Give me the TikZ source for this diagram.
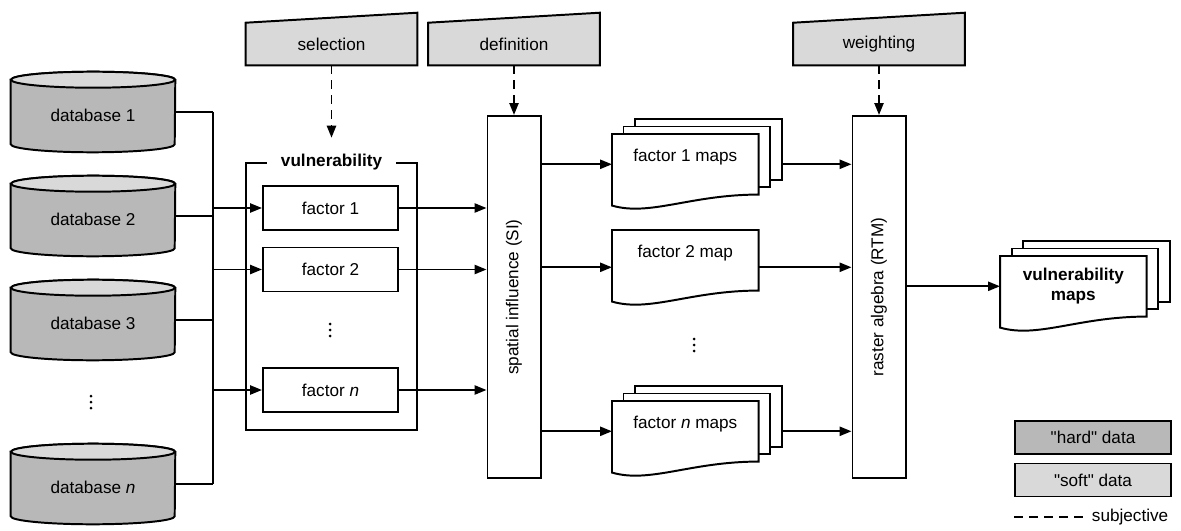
\documentclass[tikz,border=0pt]{standalone}
\usepackage{fontspec}
\setmainfont{Liberation Sans}[Ligatures=TeXOff]
\usetikzlibrary{
  arrows.meta,
  backgrounds
}

\definecolor{harddata}{HTML}{B8B8B8}
\definecolor{softdata}{HTML}{D9D9D9}

\tikzset{
  txt/.style={font=\fontsize{12.2}{14.6}\selectfont},
  btxt/.style={font=\fontsize{12.2}{14.6}\selectfont\bfseries},
  line/.style={line width=1.4pt},
  arr/.style={line,-{Triangle[length=8.5pt,width=6.5pt]}},
  subj/.style={arr,dash pattern=on 6.4pt off 4.3pt},
  subjline/.style={line,dash pattern=on 6.4pt off 4.3pt},
  dbnode/.style={txt,minimum width=4.1cm,minimum height=1.6cm,inner sep=0pt,
    text height=0.57cm,text depth=0.09cm},
  trapnode/.style={txt,minimum width=4.275cm,minimum height=1.05cm,inner sep=0pt},
  factorbox/.style={txt,draw,line,minimum width=3.375cm,minimum height=1.1cm,inner sep=0pt},
  tallbox/.style={txt,draw,line,rotate=90,minimum width=9.05cm,minimum height=1.325cm,inner sep=0pt},
  docnode/.style={txt,anchor=north west,minimum width=3.65cm,minimum height=1.5cm,inner sep=0pt},
  oneline/.style={text height=0.325cm,text depth=0.475cm},
  legbox/.style={txt,draw,line,minimum width=3.9cm,minimum height=0.825cm,inner sep=0pt},
  dotsnode/.style={inner sep=0pt,minimum size=0.4cm}
}

\begin{document}
\begin{tikzpicture}[x=0.025cm,y=0.025cm]

\useasboundingbox (0,0) rectangle (1181,-531);

%--------------------
% databases
%--------------------
\foreach \i/\y/\name in {1/112/{database 1},2/216/{database 2},3/320/{database 3},n/484/{database \textit{n}}} {
  \node[dbnode] (db\i) at (93,-\y) {\name};
  \begin{scope}[on background layer]
    \filldraw[line,fill=harddata] (db\i.north west) -- (db\i.south west)
      arc[start angle=180,end angle=360,x radius=82,y radius=8]
      -- (db\i.north east)
      arc[start angle=0,end angle=180,x radius=82,y radius=8] -- cycle;
    \filldraw[line,fill=softdata] (db\i.north) ellipse[x radius=82,y radius=8];
  \end{scope}
}

% bus
\coordinate (bus) at (213,-112);
\foreach \i in {1,2,3,n}
  \draw[line] (db\i.east) -- (db\i.east -| bus);
\draw[line] (db1.east -| bus) -- (dbn.east -| bus);

%--------------------
% vulnerability factors
%--------------------
\node[draw,line,minimum width=4.275cm,minimum height=6.675cm] (vul) at (331.5,-296.5) {};
\node[btxt,fill=white,inner xsep=0.35cm,inner ysep=0.1cm] (vultitle) at (vul.north) {vulnerability};

\node[factorbox] (f1) at (330.5,-208) {factor 1};
\node[factorbox] (f2) at (330.5,-269.5) {factor 2};
\node[factorbox] (fn) at (330.5,-390) {factor \textit{n}};

% "soft" steps
\node[trapnode] (sel) at (331.5,-44) {selection};
\node[trapnode] (def) at (514,-44) {definition};
\node[trapnode] (wgt) at (879,-44) {weighting};
\begin{scope}[on background layer]
  \foreach \t in {sel,def,wgt}
    \filldraw[line,fill=softdata] (\t.south west) -- (\t.north west)
      -- ([yshift=0.25cm]\t.north east) -- (\t.south east) -- cycle;
\end{scope}

%--------------------
% spatial influence / raster algebra
%--------------------
\node[tallbox] (si) at (514,-297) {spatial influence (SI)};
\node[tallbox] (rtm) at (879,-297) {raster algebra (RTM)};

%--------------------
% maps
%--------------------
\node[docnode,oneline] (m1) at (612,-134) {factor 1 maps};
\node[docnode,oneline] (m2) at (612,-230) {factor 2 map};
\node[docnode,oneline] (mn) at (612,-401) {factor \textit{n} maps};
\node[docnode,btxt,align=center] (vm) at (1000,-256) {vulnerability\\maps};

\begin{scope}[on background layer]
  % pages behind
  \foreach \m in {m1,mn,vm}
    \foreach \k in {2,1}
      \filldraw[line,fill=white]
        ([shift={(\k*11.5,\k*7.5)}]\m.south west)
        rectangle ([shift={(\k*11.5,\k*7.5)}]\m.north east);
  % front page
  \foreach \m in {m1,m2,mn,vm}
    \filldraw[line,fill=white] (\m.north west) -- (\m.north east) -- (\m.south east)
      .. controls ([shift={(-68,0)}]\m.south east)
      and ([shift={(38,-22)}]\m.south west)
      .. ([shift={(0,-11)}]\m.south west) -- cycle;
\end{scope}

% dots
\node[dotsnode] (dbdots) at (91,-402) {};
\node[dotsnode] (fdots) at (330,-330) {};
\node[dotsnode] (mdots) at (694,-345) {};
\foreach \d in {dbdots,fdots,mdots}
  \foreach \s in {-6,0,6}
    \fill ([yshift=\s*0.025cm]\d.center) circle (1.5);

\coordinate (m2in) at ([yshift=-0.175cm]m2.west);
\coordinate (m2out) at ([yshift=-0.175cm]m2.east);
\coordinate (m1out) at ([xshift=0.575cm]m1.east);
\coordinate (mnout) at ([xshift=0.575cm]mn.east);

%--------------------
% connectors
%--------------------
\foreach \f in {f1,f2,fn} {
  \draw[arr] (\f.west -| bus) -- (\f.west);
  \draw[arr] (\f.east) -- (\f.east -| si.north);
}

\draw[subj,shorten >=0.3cm] (sel.south) -- (vultitle.north);
\draw[subj] (def.south) -- (si.east);
\draw[subj] (wgt.south) -- (rtm.east);

\draw[arr] (m1.west -| si.south) -- (m1.west);
\draw[arr] (m2in -| si.south) -- (m2in);
\draw[arr] (mn.west -| si.south) -- (mn.west);

\draw[arr] (m1out) -- (m1out -| rtm.north);
\draw[arr] (m2out) -- (m2out -| rtm.north);
\draw[arr] (mnout) -- (mnout -| rtm.north);

\draw[arr] (vm.west -| rtm.south) -- (vm.west);

%--------------------
% legend
%--------------------
\node[legbox,fill=harddata] (hard) at (1093,-437.5) {"hard" data};
\node[legbox,fill=softdata] (soft) at (1093,-480) {"soft" data};
\node[txt,anchor=west] (subjtxt) at (1087,-517) {subjective};
\draw[subjline] (hard.west |- subjtxt.west) -- (subjtxt.west);

\end{tikzpicture}
\end{document}
